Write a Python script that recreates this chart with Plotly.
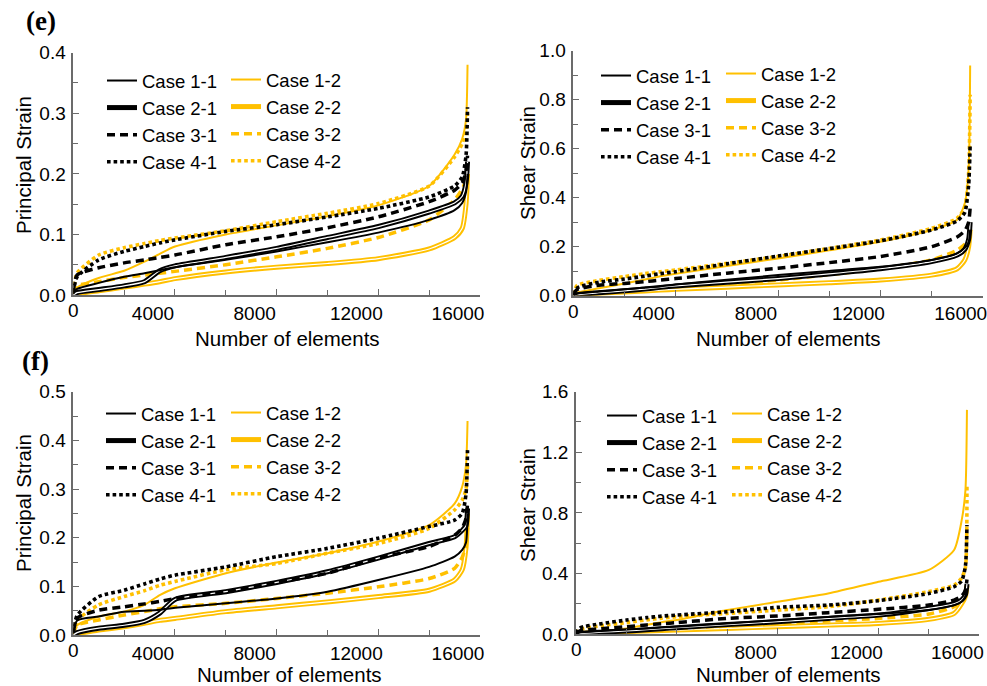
import plotly.graph_objects as go

# ---------------- data ----------------
X = [0, 150, 1000, 2000, 2800, 3400, 4000, 6000, 8000, 10000, 12000, 14000, 15000, 15300, 15450, 15510]
CASES = ["Case 1-1", "Case 2-1", "Case 3-1", "Case 4-1", "Case 1-2", "Case 2-2", "Case 3-2", "Case 4-2"]
X_TICKS = [0, 4000, 8000, 12000, 16000]
X_TICKTEXT = ["", "4000", "8000", "12000", "16000"]
X_TITLE = "Number of elements"
PANEL_TAGS = ["(e)", "(f)"]

# (e) principal strain
e_ps_11 = [0.002, 0.010, 0.020, 0.030, 0.036, 0.041, 0.046, 0.058, 0.072, 0.087, 0.103, 0.124, 0.140, 0.152, 0.170, 0.200]
e_ps_21 = [0.000, 0.004, 0.009, 0.015, 0.022, 0.040, 0.048, 0.062, 0.077, 0.095, 0.113, 0.137, 0.152, 0.163, 0.185, 0.220]
e_ps_31 = [0.005, 0.033, 0.045, 0.053, 0.058, 0.062, 0.066, 0.083, 0.096, 0.111, 0.129, 0.154, 0.173, 0.185, 0.205, 0.230]
e_ps_41 = [0.005, 0.030, 0.058, 0.072, 0.080, 0.086, 0.091, 0.105, 0.116, 0.129, 0.143, 0.162, 0.180, 0.195, 0.230, 0.310]
e_ps_12 = [0.002, 0.012, 0.028, 0.040, 0.055, 0.068, 0.080, 0.100, 0.115, 0.130, 0.148, 0.180, 0.232, 0.258, 0.290, 0.380]
e_ps_22 = [0.000, 0.002, 0.007, 0.013, 0.018, 0.022, 0.027, 0.038, 0.046, 0.052, 0.060, 0.076, 0.095, 0.110, 0.150, 0.200]
e_ps_32 = [0.002, 0.015, 0.022, 0.029, 0.033, 0.036, 0.039, 0.050, 0.063, 0.077, 0.095, 0.124, 0.157, 0.175, 0.190, 0.200]
e_ps_42 = [0.005, 0.036, 0.066, 0.078, 0.085, 0.090, 0.094, 0.106, 0.121, 0.135, 0.151, 0.180, 0.228, 0.250, 0.275, 0.300]

# (e) shear strain
e_ss_11 = [0.002, 0.008, 0.017, 0.026, 0.033, 0.038, 0.046, 0.065, 0.084, 0.101, 0.118, 0.146, 0.173, 0.195, 0.220, 0.270]
e_ss_21 = [0.000, 0.004, 0.012, 0.020, 0.027, 0.034, 0.040, 0.055, 0.070, 0.089, 0.110, 0.139, 0.166, 0.190, 0.230, 0.300]
e_ss_31 = [0.005, 0.025, 0.043, 0.050, 0.057, 0.064, 0.070, 0.092, 0.112, 0.135, 0.160, 0.200, 0.240, 0.265, 0.300, 0.360]
e_ss_41 = [0.005, 0.032, 0.055, 0.068, 0.080, 0.090, 0.098, 0.130, 0.162, 0.192, 0.224, 0.268, 0.305, 0.340, 0.450, 0.620]
e_ss_12 = [0.002, 0.012, 0.030, 0.050, 0.066, 0.079, 0.090, 0.121, 0.152, 0.185, 0.220, 0.268, 0.310, 0.377, 0.520, 0.940]
e_ss_22 = [0.000, 0.003, 0.010, 0.015, 0.019, 0.023, 0.026, 0.035, 0.044, 0.053, 0.064, 0.084, 0.110, 0.146, 0.200, 0.270]
e_ss_32 = [0.002, 0.008, 0.015, 0.021, 0.027, 0.032, 0.037, 0.050, 0.064, 0.086, 0.110, 0.146, 0.186, 0.210, 0.230, 0.250]
e_ss_42 = [0.005, 0.042, 0.062, 0.078, 0.090, 0.098, 0.105, 0.132, 0.160, 0.193, 0.227, 0.275, 0.316, 0.360, 0.500, 0.820]

# (f) principal strain
f_ps_11 = [0.005, 0.030, 0.038, 0.048, 0.050, 0.052, 0.056, 0.065, 0.075, 0.089, 0.113, 0.140, 0.161, 0.175, 0.190, 0.250]
f_ps_21 = [0.000, 0.005, 0.014, 0.020, 0.028, 0.045, 0.073, 0.089, 0.108, 0.130, 0.158, 0.188, 0.202, 0.215, 0.225, 0.260]
f_ps_31 = [0.005, 0.035, 0.051, 0.058, 0.064, 0.069, 0.075, 0.089, 0.108, 0.127, 0.158, 0.182, 0.205, 0.220, 0.240, 0.270]
f_ps_41 = [0.005, 0.040, 0.079, 0.092, 0.105, 0.115, 0.123, 0.140, 0.161, 0.178, 0.199, 0.223, 0.236, 0.250, 0.290, 0.380]
f_ps_12 = [0.002, 0.020, 0.038, 0.048, 0.062, 0.082, 0.096, 0.127, 0.149, 0.168, 0.192, 0.226, 0.270, 0.305, 0.350, 0.440]
f_ps_22 = [0.000, 0.003, 0.010, 0.017, 0.024, 0.030, 0.034, 0.048, 0.058, 0.068, 0.079, 0.092, 0.113, 0.134, 0.180, 0.250]
f_ps_32 = [0.002, 0.020, 0.031, 0.041, 0.048, 0.054, 0.058, 0.065, 0.075, 0.086, 0.099, 0.116, 0.137, 0.160, 0.185, 0.220]
f_ps_42 = [0.005, 0.030, 0.062, 0.079, 0.091, 0.102, 0.110, 0.134, 0.147, 0.168, 0.188, 0.219, 0.257, 0.277, 0.300, 0.350]

# (f) shear strain
f_ss_11 = [0.002, 0.010, 0.020, 0.030, 0.037, 0.043, 0.048, 0.070, 0.092, 0.112, 0.132, 0.158, 0.191, 0.215, 0.250, 0.300]
f_ss_21 = [0.000, 0.004, 0.012, 0.020, 0.028, 0.035, 0.042, 0.062, 0.081, 0.103, 0.125, 0.169, 0.200, 0.225, 0.260, 0.330]
f_ss_31 = [0.005, 0.020, 0.035, 0.048, 0.060, 0.068, 0.075, 0.103, 0.119, 0.141, 0.163, 0.191, 0.224, 0.250, 0.290, 0.360]
f_ss_41 = [0.005, 0.040, 0.068, 0.092, 0.108, 0.118, 0.125, 0.147, 0.176, 0.191, 0.220, 0.268, 0.312, 0.350, 0.450, 0.720]
f_ss_12 = [0.002, 0.010, 0.020, 0.037, 0.060, 0.078, 0.092, 0.158, 0.213, 0.268, 0.345, 0.423, 0.555, 0.750, 0.950, 1.480]
f_ss_22 = [0.000, 0.003, 0.010, 0.015, 0.020, 0.023, 0.026, 0.037, 0.048, 0.059, 0.070, 0.097, 0.136, 0.200, 0.250, 0.320]
f_ss_32 = [0.002, 0.008, 0.015, 0.021, 0.028, 0.033, 0.037, 0.053, 0.070, 0.086, 0.103, 0.132, 0.180, 0.220, 0.260, 0.300]
f_ss_42 = [0.005, 0.030, 0.055, 0.075, 0.093, 0.105, 0.114, 0.136, 0.158, 0.180, 0.224, 0.280, 0.323, 0.370, 0.440, 0.980]

PANELS = [
    dict(series=[e_ps_11, e_ps_21, e_ps_31, e_ps_41, e_ps_12, e_ps_22, e_ps_32, e_ps_42],
         ytitle="Principal Strain", yrange=[0, 0.4], dtick=0.1),
    dict(series=[e_ss_11, e_ss_21, e_ss_31, e_ss_41, e_ss_12, e_ss_22, e_ss_32, e_ss_42],
         ytitle="Shear Strain", yrange=[0, 1.0], dtick=0.2),
    dict(series=[f_ps_11, f_ps_21, f_ps_31, f_ps_41, f_ps_12, f_ps_22, f_ps_32, f_ps_42],
         ytitle="Principal Strain", yrange=[0, 0.5], dtick=0.1),
    dict(series=[f_ss_11, f_ss_21, f_ss_31, f_ss_41, f_ss_12, f_ss_22, f_ss_32, f_ss_42],
         ytitle="Shear Strain", yrange=[0, 1.6], dtick=0.4),
]

# ---------------- layout geometry (pixels in a 987x686 page) ----------------
W, H = 987, 686
BOXES = [  # left, right, top, bottom
    (73.3, 480.0, 52.7, 295.0),
    (573.3, 982.7, 50.7, 295.7),
    (73.3, 480.0, 391.7, 635.0),
    (576.0, 979.3, 391.7, 634.0),
]
# legend anchor (sample start x, first row center y) for the two columns
LEG_POS = [
    ((108, 84), (232, 83)),
    ((602, 79), (727, 77)),
    ((107, 417), (232, 416)),
    ((608, 419), (733, 417)),
]
# axis-title centres (x-title centre, y-title centre) in page pixels
XT_POS = [(287, 338), (788, 338), (289, 674), (788, 674)]
YT_POS = [(23, 165), (527, 163), (23, 503), (527, 505)]
TAG_POS = [(24, 21), (20, 361)]

BLACK = "#000000"
GOLD = "#FFC000"
AXC = "#6b6b6b"
FONT = "Arial, Liberation Sans, sans-serif"
TICK_SIZE = 19
LEG_SIZE = 18.5
TITLE_SIZE = 20.5

fig = go.Figure()


def add_case(p, i, y, legend):
    k = i % 4
    col = BLACK if i < 4 else GOLD
    ax = "" if p == 0 else str(p + 1)
    xa, ya = "x" + ax, "y" + ax
    if k == 0:
        line = dict(color=col, width=2)
    elif k == 1:
        line = dict(color=col, width=5)
    elif k == 2:
        line = dict(color=col, width=3.5, dash="8px,5px")
    else:
        line = dict(color=col, width=3.6, dash="3.6px,3px")
    line.update(shape="spline", smoothing=0.6)
    fig.add_trace(go.Scatter(x=X, y=y, mode="lines", line=line, name=CASES[i],
                             xaxis=xa, yaxis=ya, legend=legend, legendrank=i + 1,
                             hoverinfo="skip"))
    if k == 1:
        fig.add_trace(go.Scatter(x=X, y=y, mode="lines",
                                 line=dict(color="white", width=1.2, shape="spline", smoothing=0.6),
                                 xaxis=xa, yaxis=ya, showlegend=False, hoverinfo="skip"))


layout = dict(width=W, height=H, margin=dict(l=0, r=0, t=0, b=0, autoexpand=False),
              paper_bgcolor="white", plot_bgcolor="white",
              font=dict(family=FONT, color="black", size=TICK_SIZE), annotations=[])

for p, panel in enumerate(PANELS):
    L, R, T, B = BOXES[p]
    ax = "" if p == 0 else str(p + 1)
    leg1 = "legend" if p == 0 else "legend%d" % (2 * p + 1)
    leg2 = "legend%d" % (2 * p + 2)
    order = [5, 6, 4, 7, 1, 0, 2, 3]  # yellow underneath, black on top
    for i in order:
        add_case(p, i, panel["series"][i], leg1 if i < 4 else leg2)

    common = dict(showline=True, linecolor=AXC, linewidth=1.5, ticks="inside",
                  tickcolor=AXC, tickwidth=1.3, ticklen=6, showgrid=False, zeroline=False,
                  ticklabeloverflow="allow",
                  tickfont=dict(size=TICK_SIZE, family=FONT, color="black"))
    layout["xaxis" + ax] = dict(
        common, domain=[L / W, R / W], range=[0, 16000], anchor="y" + ax,
        tickvals=X_TICKS, ticktext=X_TICKTEXT, ticklabelshift=-22, ticklabelstandoff=0,
        minor=dict(dtick=2000, ticks="inside", ticklen=5, tickcolor=AXC, tickwidth=1.3))
    layout["yaxis" + ax] = dict(
        common, domain=[1 - B / H, 1 - T / H], range=panel["yrange"], anchor="x" + ax,
        dtick=panel["dtick"], tickformat=".1f", ticklabelstandoff=2,
        minor=dict(dtick=panel["dtick"] / 2, ticks="inside", ticklen=5, tickcolor=AXC, tickwidth=1.3))
    for (sx, sy), lg in zip(LEG_POS[p], [leg1, leg2]):
        layout[lg] = dict(x=(sx - 6) / W, y=1 - (sy - 22) / H, xanchor="left", yanchor="top",
                          bgcolor="rgba(0,0,0,0)", borderwidth=0, tracegroupgap=0,
                          font=dict(size=LEG_SIZE, family=FONT, color="black"), itemwidth=30)
    # "0" label at the x origin (not shifted like the other x labels)
    layout["annotations"].append(dict(text="0", x=0, y=0, xref="x" + ax, yref="y" + ax,
                                      xanchor="center", yanchor="top", yshift=-3,
                                      showarrow=False, font=dict(size=TICK_SIZE, family=FONT)))
    xt, yt = XT_POS[p], YT_POS[p]
    layout["annotations"].append(dict(text=X_TITLE, x=xt[0] / W, y=1 - xt[1] / H,
                                      xref="paper", yref="paper", xanchor="center", yanchor="middle",
                                      showarrow=False, font=dict(size=TITLE_SIZE, family=FONT)))
    layout["annotations"].append(dict(text=panel["ytitle"], x=yt[0] / W, y=1 - yt[1] / H,
                                      xref="paper", yref="paper", xanchor="center", yanchor="middle",
                                      textangle=-90, showarrow=False,
                                      font=dict(size=TITLE_SIZE, family=FONT)))

for tag, (tx, ty) in zip(PANEL_TAGS, TAG_POS):
    layout["annotations"].append(dict(text="<b>%s</b>" % tag, x=tx / W, y=1 - ty / H,
                                      xref="paper", yref="paper", xanchor="left", yanchor="middle",
                                      showarrow=False,
                                      font=dict(size=27, family="Liberation Serif, serif")))

fig.update_layout(**layout)
fig.write_html("out.html")
